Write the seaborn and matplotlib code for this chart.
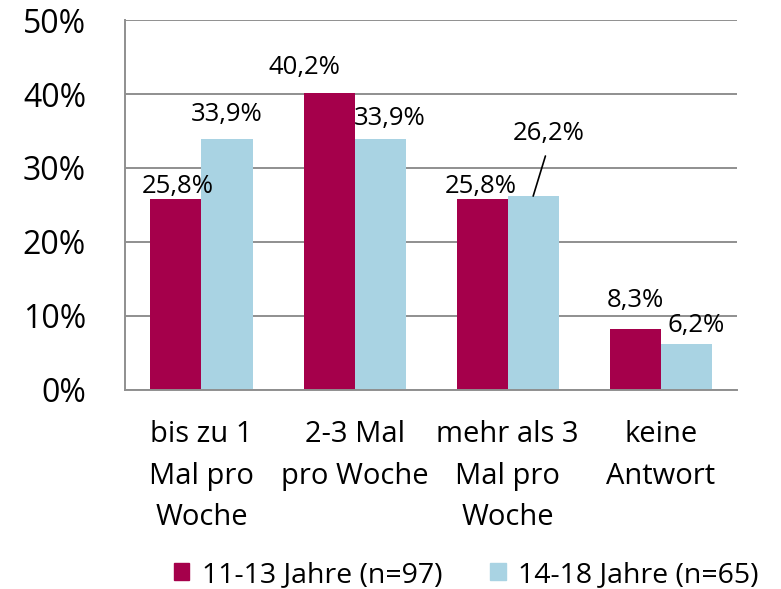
import matplotlib.pyplot as plt
import seaborn as sns
import pandas as pd
from matplotlib.ticker import FixedLocator

categories = ["bis zu 1\nMal pro\nWoche", "2-3 Mal\npro Woche", "mehr als 3\nMal pro\nWoche", "keine\nAntwort"]
series = ["11-13 Jahre (n=97)", "14-18 Jahre (n=65)"]
young = [25.8, 40.2, 25.8, 8.3]
old = [33.9, 33.9, 26.2, 6.2]
colors = ["#A5004B", "#A9D3E3"]

# label offsets in points (dx, dy) per bar
young_off = [(1, 0), (-18, 9), (-1, 0), (0, 11)]
old_off = [(0, 9), (7, 6), (11, 36), (7, 4)]

sns.set_style("white")
plt.rcParams['font.family'] = ['Open Sans', 'DejaVu Sans']
plt.rcParams['text.color'] = 'black'
plt.rcParams['xtick.labelcolor'] = 'black'
plt.rcParams['ytick.labelcolor'] = 'black'

df = pd.DataFrame({
    "Kategorie": categories * 2,
    "Wert": young + old,
    "Gruppe": [series[0]] * 4 + [series[1]] * 4,
})

fig = plt.figure(figsize=(7.81, 5.89), dpi=100)
ax = fig.add_axes([0.160, 0.338, 0.784, 0.628])
sns.barplot(data=df, x="Kategorie", y="Wert", hue="Gruppe", palette=colors,
            width=0.667, saturation=1, ax=ax, legend=False, errorbar=None,
            linewidth=0)

ax.set_ylim(0, 50)
ax.set_xlim(-0.5, 3.5)
ax.set_yticks(range(0, 51, 10))
ax.set_yticklabels([f"{v}%" for v in range(0, 51, 10)])
ax.grid(axis='y', color='#8f8f8f', lw=1.4)
ax.set_axisbelow(True)
for s in ['top', 'right']:
    ax.spines[s].set_visible(False)
for s in ['left', 'bottom']:
    ax.spines[s].set_color('#8f8f8f')
    ax.spines[s].set_linewidth(1.4)
ax.tick_params(axis='y', length=9, width=1.4, color='#8f8f8f', pad=19, labelsize=23)
ax.tick_params(axis='x', which='major', length=0, pad=22, labelsize=21)
for lbl in ax.get_xticklabels():
    lbl.set_linespacing(1.56)
ax.xaxis.set_minor_locator(FixedLocator([-0.5, 0.5, 1.5, 2.5, 3.5]))
ax.tick_params(axis='x', which='minor', length=8, width=1.4, color='#8f8f8f')
ax.set_xlabel("")
ax.set_ylabel("")

for bars, vals, offs in zip(ax.containers, [young, old], [young_off, old_off]):
    for bar, v, (dx, dy) in zip(bars, vals, offs):
        x = bar.get_x() + bar.get_width() / 2
        txt = f"{v:.1f}%".replace(".", ",")
        if dy > 20:
            # label lifted off its bar, joined by a leader line
            ax.annotate(txt, xy=(x, v), xytext=(dx, dy),
                        textcoords='offset points', ha='center', va='bottom',
                        fontsize=18.5,
                        arrowprops=dict(arrowstyle='-', color='black', lw=1.2,
                                        shrinkA=5, shrinkB=0,
                                        relpos=(0.5, 0)))
        else:
            ax.annotate(txt, xy=(x, v), xytext=(dx, dy), textcoords='offset points',
                        ha='center', va='bottom', fontsize=18.5)

handles = [plt.Rectangle((0, 0), 1, 1, color=c) for c in colors]
fig.legend(handles, series, loc='center', bbox_to_anchor=(0.597, 0.024), ncol=2,
           frameon=False, fontsize=20.5, handlelength=0.53, handleheight=0.53,
           handletextpad=0.45, columnspacing=1.7)

fig.savefig("out.png", dpi=100)
